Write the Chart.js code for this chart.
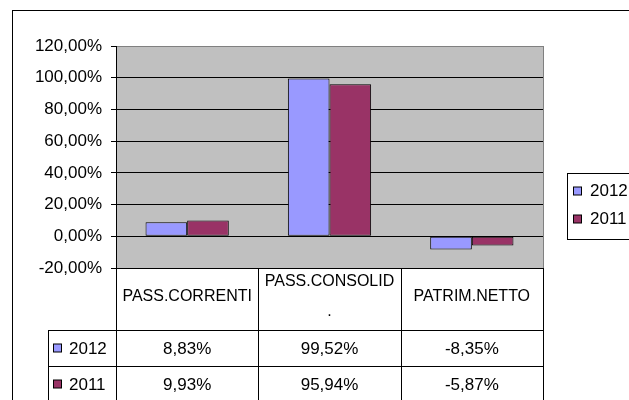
<!DOCTYPE html>
<html>
<head>
<meta charset="utf-8">
<script src="https://cdn.jsdelivr.net/npm/chart.js@4/dist/chart.umd.min.js"></script>
<style>
html, body { margin: 0; padding: 0; background: #fff; }
canvas { display: block; }
</style>
</head>
<body>
<canvas id="chart" width="629" height="400"></canvas>
<script>
const categories = ["PASS.CORRENTI", "PASS.CONSOLID.", "PATRIM.NETTO"];
const years = ["2012", "2011"];
const values2012 = [8.83, 99.52, -8.35];
const values2011 = [9.93, 95.94, -5.87];
const yTicks = [-20, 0, 20, 40, 60, 80, 100, 120];
const colors = ["#9999ff", "#993366"];

const FONT = "'Liberation Sans', Arial, sans-serif";
const HEAD_SIZE = 16;
const NUM_SIZE = 17;
const pct = v => v.toFixed(2).replace(".", ",") + "%";

// draws the grey plot background, the data table under the plot, the legend and the frame
const excelBits = {
  id: "excelBits",
  beforeDraw(chart) {
    const c = chart.ctx, a = chart.chartArea;
    c.save();
    c.fillStyle = "#fff";
    c.fillRect(0, 0, chart.width, chart.height);
    c.fillStyle = "#c0c0c0";
    c.fillRect(a.left, a.top, a.right - a.left, a.bottom - a.top);
    c.restore();
  },
  afterDraw(chart) {
    const c = chart.ctx, a = chart.chartArea;
    const sets = chart.data.datasets;
    const colW = (a.right - a.left) / categories.length;
    const headBot = a.bottom + 62;
    const rowH = 36;
    const tableBot = headBot + rowH * sets.length;
    const keyLeft = 48;
    const px = v => Math.round(v) + 0.5;

    c.save();
    c.lineWidth = 1;

    // plot area right border
    c.strokeStyle = "#808080";
    c.beginPath();
    c.moveTo(px(a.right), a.top);
    c.lineTo(px(a.right), a.bottom);
    c.stroke();

    // table grid
    c.strokeStyle = "#000";
    c.beginPath();
    c.moveTo(px(a.left), px(a.bottom));
    c.lineTo(px(a.right), px(a.bottom));
    for (let r = 0; r <= sets.length; r++) {
      const y = px(headBot + r * rowH);
      c.moveTo(px(keyLeft), y);
      c.lineTo(px(a.right), y);
    }
    for (let i = 0; i <= categories.length; i++) {
      const x = px(a.left + i * colW);
      c.moveTo(x, a.bottom);
      c.lineTo(x, tableBot);
    }
    c.moveTo(px(keyLeft), headBot);
    c.lineTo(px(keyLeft), tableBot);
    c.stroke();

    c.fillStyle = "#000";
    c.font = HEAD_SIZE + "px " + FONT;
    c.textBaseline = "middle";
    c.textAlign = "center";

    // category headers, wrapped like Excel when too wide
    const maxW = colW - 9;
    categories.forEach((label, i) => {
      const cx = a.left + (i + 0.5) * colW;
      const lines = [];
      let rest = label;
      while (rest.length) {
        let n = rest.length;
        while (n > 1 && c.measureText(rest.slice(0, n)).width > maxW) n--;
        lines.push(rest.slice(0, n));
        rest = rest.slice(n);
      }
      const lh = 30;
      const cy = (a.bottom + headBot) / 2 - 2;
      lines.forEach((ln, k) => {
        c.fillText(ln, cx, cy + (k - (lines.length - 1) / 2) * lh);
      });
    });

    // value rows
    c.font = NUM_SIZE + "px " + FONT;
    sets.forEach((ds, r) => {
      const cy = headBot + r * rowH + rowH / 2;
      c.fillStyle = ds.backgroundColor;
      c.fillRect(53.5, cy - 4, 8, 8);
      c.strokeRect(53.5, cy - 4, 8, 8);
      c.fillStyle = "#000";
      c.textAlign = "left";
      c.fillText(ds.label, 69, cy + 1);
      c.textAlign = "center";
      ds.data.forEach((v, i) => {
        c.fillText(pct(v), a.left + (i + 0.5) * colW, cy + 1);
      });
    });

    // legend box
    c.strokeStyle = "#000";
    c.strokeRect(567.5, 173.5, 100, 66);
    sets.forEach((ds, r) => {
      const cy = 191 + r * 28;
      c.fillStyle = ds.backgroundColor;
      c.fillRect(573.5, cy - 4, 8, 8);
      c.strokeRect(573.5, cy - 4, 8, 8);
      c.fillStyle = "#000";
      c.textAlign = "left";
      c.fillText(ds.label, 590, cy);
    });

    // outer chart frame
    c.strokeRect(12.5, 10.5, 700, 500);
    c.restore();
  }
};

new Chart(document.getElementById("chart"), {
  type: "bar",
  data: {
    labels: categories,
    datasets: [
      { label: years[0], data: values2012, backgroundColor: colors[0] },
      { label: years[1], data: values2011, backgroundColor: colors[1] }
    ]
  },
  options: {
    responsive: false,
    animation: false,
    layout: { padding: { left: 0, top: 46, right: 86, bottom: 132 } },
    datasets: {
      bar: {
        barPercentage: 1,
        categoryPercentage: 0.585,
        borderColor: "#000",
        borderWidth: 1,
        borderSkipped: false
      }
    },
    plugins: {
      legend: { display: false },
      tooltip: { enabled: false }
    },
    scales: {
      x: { display: false },
      y: {
        min: yTicks[0],
        max: yTicks[yTicks.length - 1],
        afterBuildTicks: s => { s.ticks = yTicks.map(v => ({ value: v })); },
        afterFit: s => { s.width = 116; },
        border: { display: true, color: "#000", width: 1 },
        grid: {
          color: ctx => (ctx.tick && ctx.tick.value === 120 ? "#808080" : "#000"),
          tickLength: 5,
          tickColor: "#000",
          lineWidth: 1
        },
        ticks: {
          padding: 9,
          color: "#000",
          font: { family: FONT, size: NUM_SIZE },
          callback: v => pct(v)
        }
      }
    }
  },
  plugins: [excelBits]
});
</script>
</body>
</html>
